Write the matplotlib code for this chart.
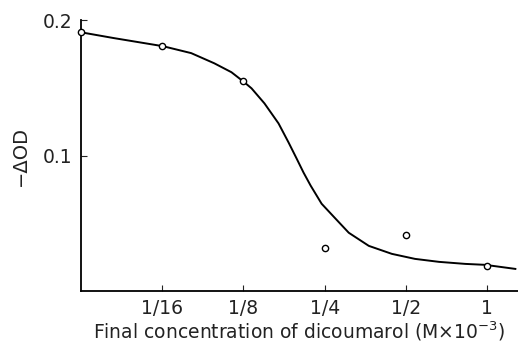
import matplotlib.pyplot as plt

# measured points (concentration in mM, -dOD)
conc = [1/32, 1/16, 1/8, 1/4, 1/2, 1]
dod = [0.191, 0.181, 0.155, 0.032, 0.041, 0.0185]

# hand-drawn fitted curve
curve_x = [0.03125, 0.0414, 0.0630, 0.0801, 0.0975, 0.1129, 0.126, 0.134,
           0.1496, 0.1687, 0.1838, 0.1968, 0.2088, 0.2218, 0.2436, 0.2722,
           0.307, 0.3643, 0.4435, 0.540, 0.663, 0.829, 0.983, 1.271]
curve_y = [0.191, 0.1867, 0.1807, 0.1756, 0.1681, 0.1615, 0.1541, 0.1496,
           0.1385, 0.1237, 0.1096, 0.0978, 0.0874, 0.0778, 0.0644, 0.0541,
           0.0430, 0.0333, 0.0274, 0.0237, 0.0215, 0.0200, 0.0193, 0.0163]

tick_vals = [1/16, 1/8, 1/4, 1/2, 1]
tick_names = ["1/16", "1/8", "1/4", "1/2", "1"]

plt.rcParams['font.family'] = ['DejaVu Sans']

fig = plt.figure(figsize=(5.18, 3.46), dpi=100)
ax = fig.add_axes([0.156, 0.159, 0.844, 0.783])

ax.plot(curve_x, curve_y, color='black', lw=1.4, zorder=2,
        solid_joinstyle='round')
ax.plot(conc, dod, 'o', ms=4.5, mfc='white', mec='black', mew=1.0, zorder=3,
        clip_on=False)

ax.set_xscale('log', base=2)
ax.set_xlim(1/32, 1.3)
ax.set_ylim(0, 0.2)
ax.set_xticks(tick_vals)
ax.set_xticklabels(tick_names)
ax.minorticks_off()
ax.set_yticks([0.1, 0.2])
ax.set_yticklabels(["0.1", "0.2"])
ax.tick_params(direction='in', length=4, labelsize=13.5, colors='#222222')
ax.tick_params(axis='y', pad=6)
ax.tick_params(axis='x', pad=6)

for s in ['top', 'right']:
    ax.spines[s].set_visible(False)
for s in ['left', 'bottom']:
    ax.spines[s].set_linewidth(1.3)

ax.set_xlabel("Final concentration of dicoumarol (M\u00d710$^{-3}$)",
              fontsize=13.5, color='#222222', labelpad=1)
ax.set_ylabel("\u2212\u0394OD", fontsize=14, color='#222222', labelpad=9)

fig.savefig("out.png", dpi=100)
